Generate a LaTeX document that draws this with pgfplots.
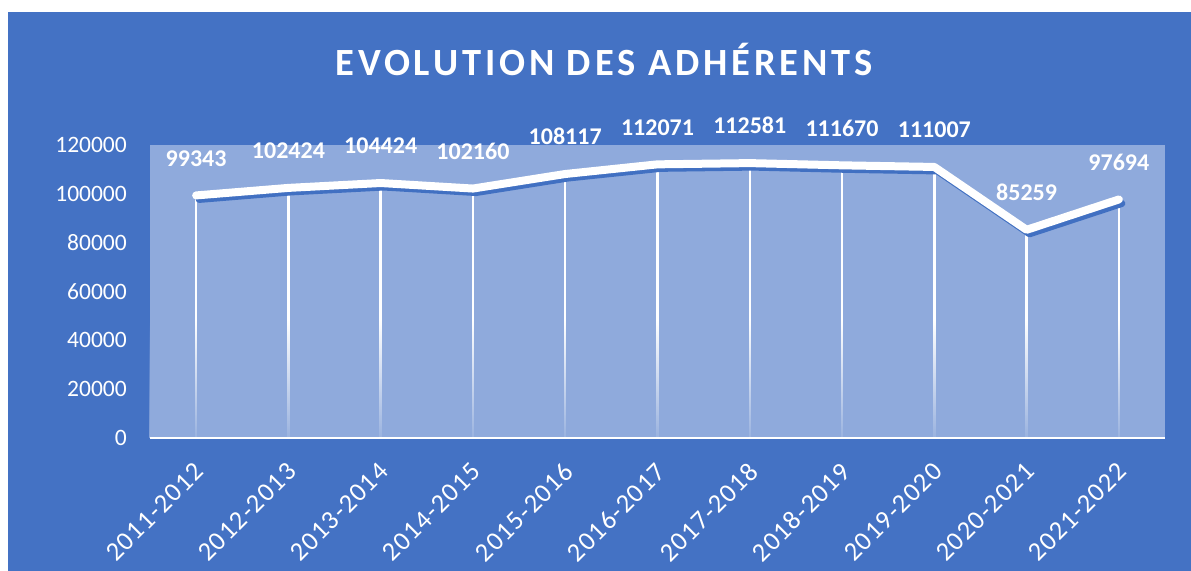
\documentclass[border=0pt]{standalone}
\usepackage{fontspec}
\setmainfont{Carlito}
\newfontfamily\titlefont[LetterSpace=10]{Carlito}
\newfontfamily\xlabfont[LetterSpace=5]{Carlito}
\usepackage{pgfplots}
\usepackage{pgfplotstable}
\pgfplotsset{compat=1.18}
\usetikzlibrary{fadings}
\definecolor{bgblue}{HTML}{4472C4}
\definecolor{plotbg}{HTML}{8FAADC}
\definecolor{shadowblue}{HTML}{4170C2}
\pgfplotstableread{
x y label
0 99343 99343
1 102424 102424
2 104424 104424
3 102160 102160
4 108117 108117
5 112071 112071
6 112581 112581
7 111670 111670
8 111007 111007
9 85259 85259
10 97694 97694
}\adherents
\begin{document}
\begin{tikzpicture}[x=1bp,y=1bp]
\fill[white] (0,0) rectangle (1191,571);
\fill[bgblue] (8,0) rectangle (1191,559);
\node[text=white, inner sep=0pt, font=\titlefont\bfseries\fontsize{38.5bp}{46bp}\selectfont] at (604,512) {EVOLUTION DES ADHÉRENTS};
\begin{axis}[
  at={(150bp,133bp)}, anchor=south west,
  scale only axis, width=1015bp, height=293bp,
  xmin=-0.5, xmax=10.5, ymin=0, ymax=120000,
  axis background/.style={fill=plotbg},
  axis line style={draw=none},
  major tick length=0pt,
  xtick={0,...,10},
  xticklabels={2011-2012,2012-2013,2013-2014,2014-2015,2015-2016,2016-2017,2017-2018,2018-2019,2019-2020,2020-2021,2021-2022},
  ytick={0,20000,40000,60000,80000,100000,120000},
  scaled y ticks=false,
  yticklabel style={/pgf/number format/fixed, /pgf/number format/1000 sep={}, /pgf/number format/assume math mode=true,
     font=\fontsize{23.5bp}{28bp}\selectfont, text=white, inner sep=0pt, anchor=east, xshift=-23bp},
  xticklabel style={font=\xlabfont\fontsize{26.5bp}{32bp}\selectfont, text=white, inner sep=0pt,
     xshift=-3bp, yshift=-23bp, rotate=45, anchor=north east},
  clip=false,
]
\addplot[white, line width=2.5bp, ycomb, no markers] table[x=x,y=y] {\adherents};
\fill[plotbg, opacity=0.9, path fading=north] (rel axis cs:0,0) rectangle (rel axis cs:1,0.4);
\draw[white, line width=2bp] (rel axis cs:0,0) -- (rel axis cs:1,0);
\addplot[shadowblue, line width=7bp, line cap=round, line join=round, no markers, xshift=3bp, yshift=-4bp] table[x=x,y=y] {\adherents};
\addplot[white, line width=8bp, line cap=round, line join=round, no markers,
  nodes near coords, point meta=explicit symbolic,
  every node near coord/.style={font=\bfseries\fontsize{24bp}{28bp}\selectfont, text=white, inner sep=0pt, anchor=south, yshift=25bp}]
  table[x=x,y=y,meta=label] {\adherents};
\end{axis}
\end{tikzpicture}
\end{document}
